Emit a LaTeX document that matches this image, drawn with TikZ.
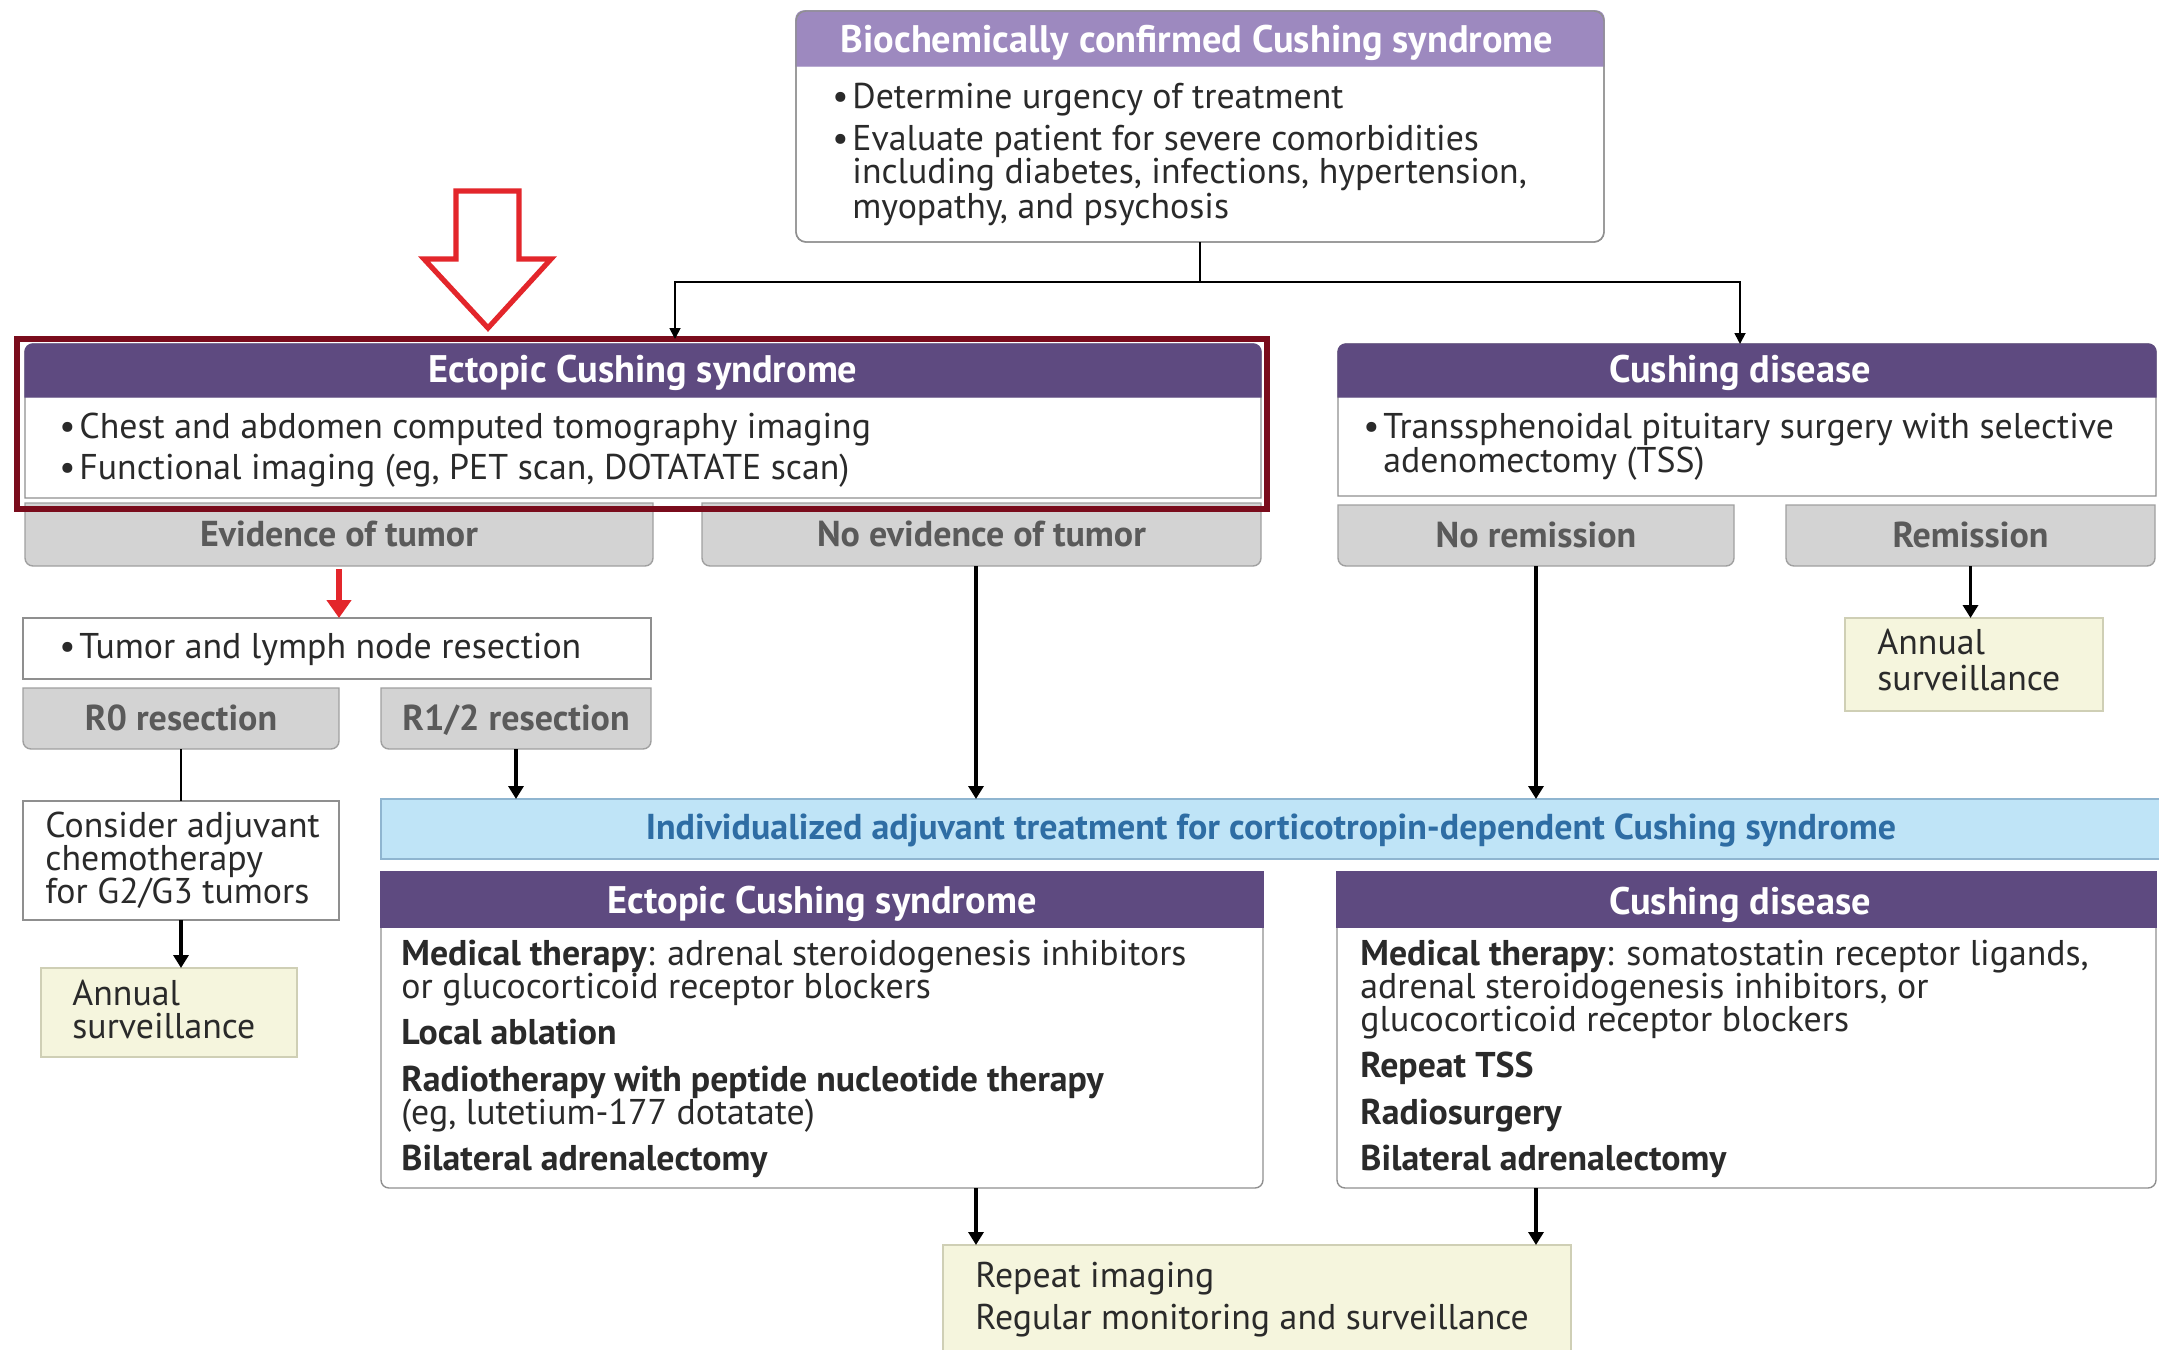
\documentclass[tikz,border=0pt]{standalone}
\usepackage{fontspec}
\setmainfont{PT Sans}
\usetikzlibrary{fit,arrows.meta}
\definecolor{hdrc}{HTML}{5E4A80}
\definecolor{hdrlc}{HTML}{9D89BF}
\definecolor{tabc}{HTML}{D3D3D3}
\definecolor{tabbord}{HTML}{A0A0A0}
\definecolor{tabtxt}{HTML}{5A5A5A}
\definecolor{yelc}{HTML}{F5F5DD}
\definecolor{yelbord}{HTML}{CFCFB5}
\definecolor{bandc}{HTML}{BFE4F7}
\definecolor{bandbord}{HTML}{8FB5D0}
\definecolor{bandtxt}{HTML}{2E6DA4}
\definecolor{redbox}{HTML}{7A0C1C}
\definecolor{redarr}{HTML}{E3262B}
\definecolor{bordc}{HTML}{8F8F8F}
\definecolor{txtc}{HTML}{2A2A2A}
\newcommand\shapetoprnd[2]{\path[#1] (#2.south) -- (#2.south west) -- (#2.west) {[rounded corners=4pt] -- (#2.north west) -- (#2.north east) -- (#2.east)} -- (#2.south east) -- cycle;}
\newcommand\shapebotrnd[2]{\path[#1] (#2.north) -- (#2.north east) -- (#2.east) {[rounded corners=4pt] -- (#2.south east) -- (#2.south west) -- (#2.west)} -- (#2.north west) -- cycle;}
\newcommand\bul{\makebox[10pt][l]{\textbullet}}
\begin{document}
\begin{tikzpicture}[x=0.5pt,y=-0.5pt,
  region/.style={inner sep=0pt, outer sep=0pt},
  frame/.style={draw=bordc, line width=0.7pt, fill=white},
  hdrfill/.style={fill=hdrc, draw=hdrc, line width=0.7pt},
  tabfill/.style={fill=tabc, draw=tabbord, line width=0.7pt},
  yelbox/.style={fill=yelc, draw=yelbord, line width=0.7pt},
  wbox/.style={fill=white, draw=bordc, line width=0.7pt},
  t/.style={inner sep=0pt, anchor=mid west, text=txtc, font=\fontsize{17.9}{21}\selectfont},
  hd/.style={inner sep=0pt, anchor=mid, yshift=-3.5pt, text=white, font=\fontsize{19.2}{22}\bfseries\selectfont},
  tabt/.style={inner sep=0pt, anchor=mid, yshift=-3.5pt, text=tabtxt, font=\fontsize{18}{21}\bfseries\selectfont},
  arr/.style={-{Triangle[width=7.5pt,length=6.5pt]}, line width=1.8pt, draw=black},
  thinarr/.style={-{Triangle[width=5.5pt,length=5.5pt]}, line width=0.9pt, draw=black},
  redsmall/.style={-{Triangle[width=12pt,length=9pt]}, line width=2.8pt, draw=redarr, color=redarr},
]
\useasboundingbox (0,0) rectangle (2159,1350);
\fill[white] (0,0) rectangle (2159,1350);
\clip (0,0) rectangle (2159,1350);

% ---------- regions ----------
\node[region, fit={(796,11) (1604,242)}] (top) {};
\node[region, fit={(796,11) (1604,66)}] (toph) {};
\coordinate (split) at (1200,282);

\node[region, fit={(25,344) (1261,498)}] (ecs1) {};
\node[region, fit={(25,344) (1261,397)}] (ecs1h) {};
\node[region, fit={(1338,344) (2156,496)}] (cd1) {};
\node[region, fit={(1338,344) (2156,397)}] (cd1h) {};

\node[region, fit={(25,503) (653,566)}] (evid) {};
\node[region, fit={(702,503) (1261,566)}] (noev) {};
\node[region, fit={(1338,505) (1734,566)}] (nrem) {};
\node[region, fit={(1786,505) (2155,566)}] (rem) {};
\coordinate (noevx) at (976,566);

\node[region, fit={(23,618) (651,679)}] (tumor) {};
\node[region, fit={(23,688) (339,749)}] (r0) {};
\node[region, fit={(381,688) (651,749)}] (r12) {};
\node[region, fit={(23,801) (339,920)}] (cons) {};
\node[region, fit={(41,968) (297,1057)}] (annL) {};
\node[region, fit={(1845,618) (2103,711)}] (annR) {};
\node[region, fit={(381,799) (2170,859)}] (band) {};

\node[region, fit={(381,872) (1263,1188)}] (ecs2) {};
\node[region, fit={(381,872) (1263,927)}] (ecs2h) {};
\node[region, fit={(1337,872) (2156,1188)}] (cd2) {};
\node[region, fit={(1337,872) (2156,927)}] (cd2h) {};
\node[region, fit={(943,1245) (1571,1360)}] (rep) {};

\node[region, fit={(17,339) (1267,509)}] (hl) {};

% ---------- shapes ----------
\draw[frame, rounded corners=5pt] (top.north west) rectangle (top.south east);
\shapetoprnd{fill=hdrlc, draw=hdrlc, line width=0.7pt}{toph}
\draw[draw=bordc, line width=0.7pt, rounded corners=5pt] (top.north west) rectangle (top.south east);

\shapetoprnd{frame}{ecs1}
\shapetoprnd{hdrfill}{ecs1h}
\shapetoprnd{frame}{cd1}
\shapetoprnd{hdrfill}{cd1h}

\shapebotrnd{tabfill}{evid}
\shapebotrnd{tabfill}{noev}
\shapebotrnd{tabfill}{nrem}
\shapebotrnd{tabfill}{rem}
\shapebotrnd{tabfill}{r0}
\shapebotrnd{tabfill}{r12}

\path[wbox] (tumor.north west) rectangle (tumor.south east);
\path[wbox] (cons.north west) rectangle (cons.south east);
\path[yelbox] (annL.north west) rectangle (annL.south east);
\path[yelbox] (annR.north west) rectangle (annR.south east);
\path[yelbox] (rep.north west) rectangle (rep.south east);
\path[fill=bandc, draw=bandbord, line width=0.9pt] (band.north west) rectangle (band.south east);

\shapebotrnd{frame}{ecs2}
\path[hdrfill] (ecs2h.north west) rectangle (ecs2h.south east);
\shapebotrnd{frame}{cd2}
\path[hdrfill] (cd2h.north west) rectangle (cd2h.south east);

% highlight frame and hollow red arrow
\draw[redbox, line width=3pt] (hl.north west) rectangle (hl.south east);
\draw[redarr, fill=white, line width=2.6pt, line join=miter] (456,191) -- (519,191) -- (519,259) -- (551,259) -- (488,328) -- (424,259) -- (456,259) -- cycle;

% ---------- texts ----------
\node[hd] (tophT) at (1197,40) {Biochemically confirmed Cushing syndrome};
\node[t] (top1) at (832,103) {\bul Determine urgency of treatment};
\node[t] (top2) at (832,145) {\bul Evaluate patient for severe comorbidities};
\node[t] (top3) at (852,178) {including diabetes, infections, hypertension,};
\node[t] (top4) at (852,213) {myopathy, and psychosis};

\node[hd] (ecs1T) at (ecs1h.center) {Ectopic Cushing syndrome};
\node[t] (ecs1a) at (59,433) {\bul Chest and abdomen computed tomography imaging};
\node[t] (ecs1b) at (59,474) {\bul Functional imaging (eg, PET scan, DOTATATE scan)};

\node[hd] (cd1T) at (1740,370) {Cushing disease};
\node[t] (cd1a) at (1363,433) {\bul Transsphenoidal pituitary surgery with selective};
\node[t] (cd1b) at (1383,467) {adenomectomy (TSS)};

\node[tabt] (evidT) at (evid.center) {Evidence of tumor};
\node[tabt] (noevT) at (noev.center) {No evidence of tumor};
\node[tabt] (nremT) at (nrem.center) {No remission};
\node[tabt] (remT) at (rem.center) {Remission};
\node[tabt] (r0T) at (r0.center) {R0 resection};
\node[tabt] (r12T) at (r12.center) {R1/2 resection};

\node[t] (tumorT) at (59,653) {\bul Tumor and lymph node resection};
\node[t] (cons1) at (45,832) {Consider adjuvant};
\node[t] (cons2) at (45,865) {chemotherapy};
\node[t] (cons3) at (45,898) {for G2/G3 tumors};
\node[t] (annL1) at (72,1000) {Annual};
\node[t] (annL2) at (72,1033) {surveillance};
\node[t] (annR1) at (1877,649) {Annual};
\node[t] (annR2) at (1877,685) {surveillance};

\node[inner sep=0pt, anchor=mid, yshift=-2.8pt, text=bandtxt, font=\fontsize{18}{21}\bfseries\selectfont] (bandT) at (1271,829) {Individualized adjuvant treatment for corticotropin-dependent Cushing syndrome};

\node[hd, yshift=-1pt] (ecs2T) at (ecs2h.center) {Ectopic Cushing syndrome};
\node[t] (e1) at (401,960) {\textbf{Medical therapy}: adrenal steroidogenesis inhibitors};
\node[t] (e2) at (401,993) {or glucocorticoid receptor blockers};
\node[t] (e3) at (401,1039) {\textbf{Local ablation}};
\node[t] (e4) at (401,1086) {\textbf{Radiotherapy with peptide nucleotide therapy}};
\node[t] (e5) at (401,1119) {(eg, lutetium-177 dotatate)};
\node[t] (e6) at (401,1165) {\textbf{Bilateral adrenalectomy}};

\node[hd, yshift=-1pt] (cd2T) at (1740,900) {Cushing disease};
\node[t] (c1) at (1360,960) {\textbf{Medical therapy}: somatostatin receptor ligands,};
\node[t] (c2) at (1360,993) {adrenal steroidogenesis inhibitors, or};
\node[t] (c3) at (1360,1026) {glucocorticoid receptor blockers};
\node[t] (c4) at (1360,1072) {\textbf{Repeat TSS}};
\node[t] (c5) at (1360,1119) {\textbf{Radiosurgery}};
\node[t] (c6) at (1360,1165) {\textbf{Bilateral adrenalectomy}};

\node[t] (rep1) at (975,1282) {Repeat imaging};
\node[t] (rep2) at (975,1324) {Regular monitoring and surveillance};

% ---------- connectors ----------
\draw[line width=0.9pt] (top.south) -- (split);
\draw[thinarr] (split) -| (675,0 |- hl.north);
\draw[thinarr] (split) -| (1740,0 |- cd1.north);

\draw[redsmall] ([yshift=-1.5pt]evid.south) -- (tumor.north -| evid.south);
\draw[line width=1pt] (r0.south) -- (cons.north);
\draw[arr] (cons.south) -- (annL.north -| cons.south);
\draw[arr] (r12.south) -- (band.north -| r12.south);
\draw[arr] (noevx) -- (band.north -| noevx);
\draw[arr] (nrem.south) -- (band.north -| nrem.south);
\draw[arr] (rem.south) -- (annR.north -| rem.south);
\draw[arr] (ecs2.south -| noevx) -- (rep.north -| noevx);
\draw[arr] (cd2.south -| nrem.south) -- (rep.north -| nrem.south);
\end{tikzpicture}
\end{document}
